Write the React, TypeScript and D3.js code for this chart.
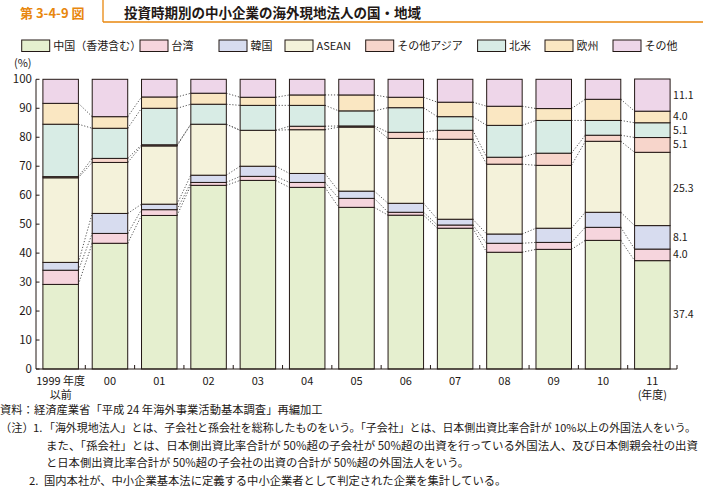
import React from "react";
import * as d3 from "d3";

const categories = ["1999 年度\n以前", "00", "01", "02", "03", "04", "05", "06", "07", "08", "09", "10", "11\n(年度)"];
const seriesNames = ["中国（香港含む）", "台湾", "韓国", "ASEAN", "その他アジア", "北米", "欧州", "その他"];
const china = [29.2, 43.4, 53.0, 63.4, 65.1, 62.7, 55.8, 53.1, 48.6, 40.3, 41.3, 44.4, 37.4];
const taiwan = [4.9, 3.4, 2.0, 1.0, 1.4, 1.7, 3.1, 1.0, 1.1, 3.1, 2.4, 4.5, 4.0];
const korea = [2.7, 6.9, 1.9, 2.5, 3.5, 3.1, 2.5, 3.1, 2.0, 3.2, 4.9, 5.2, 8.1];
const asean = [29.2, 17.6, 20.1, 17.6, 12.4, 15.1, 22.1, 22.4, 27.6, 24.1, 21.7, 24.5, 25.3];
const otherAsia = [0.4, 1.4, 0.4, 0.0, 0.0, 1.2, 0.4, 2.1, 3.1, 2.4, 4.2, 2.1, 5.1];
const northAmerica = [18.1, 10.4, 12.6, 6.9, 8.6, 7.2, 5.2, 8.5, 4.7, 11.0, 11.3, 5.1, 5.1];
const europe = [7.2, 4.0, 3.9, 3.8, 2.8, 3.6, 5.5, 3.6, 5.0, 6.6, 4.1, 7.3, 4.0];
const others = [8.3, 12.9, 6.1, 4.8, 6.2, 5.4, 5.4, 6.2, 7.9, 9.3, 10.1, 6.9, 11.1];
const yTicks = [0, 10, 20, 30, 40, 50, 60, 70, 80, 90, 100];
const lastLabels = ["37.4", "4.0", "8.1", "25.3", "5.1", "5.1", "4.0", "11.1"];

const colors = ["#e5efcf", "#f6d5dd", "#d7dcef", "#f4f2da", "#f7d5cb", "#d8ece5", "#fae7c2", "#eed6e9"];
const allSeries = [china, taiwan, korea, asean, otherAsia, northAmerica, europe, others];

const FONT = "'Noto Sans CJK JP', 'Noto Sans', sans-serif";
const INK = "#231815";
const ORANGE = "#e8870e";

export default function App() {
  const x = d3.scaleBand<number>().domain(d3.range(categories.length)).range([36, 677]).paddingInner(0.28).paddingOuter(0.14);
  const y = d3.scaleLinear().domain([0, 100]).range([369, 79.3]);

  const table = categories.map((c, i) => {
    const row: any = { i };
    seriesNames.forEach((s, k) => (row[s] = allSeries[k][i]));
    return row;
  });
  const stacked = d3.stack<any>().keys(seriesNames)(table);

  const bw = x.bandwidth();
  const step = x.step();

  const connectors: JSX.Element[] = [];
  for (let i = 0; i < categories.length - 1; i++) {
    for (let k = 0; k < seriesNames.length - 1; k++) {
      const a = stacked[k][i][1];
      const b = stacked[k][i + 1][1];
      connectors.push(
        <line key={`c${i}-${k}`} x1={x(i)! + bw} x2={x(i + 1)!} y1={y(a)} y2={y(b)}
          stroke="#555" strokeWidth={1} strokeDasharray="1.2,1.8" />
      );
    }
  }

  const legendX = [21.7, 140, 219, 285, 365.7, 477.6, 545, 613];

  const notes: { y: number; x: number; t: string; len?: number; fs?: number }[] = [
    { y: 414, x: 0, t: "資料：経済産業省「平成 24 年海外事業活動基本調査」再編加工" },
    { y: 432, x: 0, t: "（注）" },
    { y: 432, x: 33, t: "1." },
    { y: 432, x: 44, t: "「海外現地法人」とは、子会社と孫会社を総称したものをいう。「子会社」とは、日本側出資比率合計が 10%以上の外国法人をいう。", len: 652, fs: 11 },
    { y: 449.5, x: 46, t: "また、「孫会社」とは、日本側出資比率合計が 50%超の子会社が 50%超の出資を行っている外国法人、及び日本側親会社の出資", len: 652 },
    { y: 467, x: 46, t: "と日本側出資比率合計が 50%超の子会社の出資の合計が 50%超の外国法人をいう。" },
    { y: 484.5, x: 29, t: "2." },
    { y: 484.5, x: 44, t: "国内本社が、中小企業基本法に定義する中小企業者として判定された企業を集計している。" },
  ];

  const last = categories.length - 1;
  // label positions for last bar, spread upward-to-downward to keep minimum spacing
  const labelY = stacked.map((layer) => (y(layer[last][0]) + y(layer[last][1])) / 2);
  const order = d3.range(labelY.length).sort((a, b) => labelY[a] - labelY[b]);
  const minGap = 14;
  for (let j = 1; j < order.length; j++) {
    const prev = labelY[order[j - 1]];
    if (labelY[order[j]] - prev < minGap) labelY[order[j]] = prev + minGap;
  }

  return (
    <svg width={703} height={487} style={{ position: "absolute", left: 0, top: 0, background: "#fff" }} fontFamily={FONT}>
      {/* header */}
      <line x1={103} x2={103} y1={0} y2={22} stroke={ORANGE} strokeWidth={1.3} />
      <line x1={103} x2={703} y1={22} y2={22} stroke={ORANGE} strokeWidth={1.3} />
      <text x={20} y={18} fontSize={13} fontWeight="bold" fill={ORANGE}>第 3-4-9 図</text>
      <text x={124} y={18} fontSize={13.5} fontWeight="bold" fill={INK}>投資時期別の中小企業の海外現地法人の国・地域</text>

      {/* legend */}
      {seriesNames.map((s, k) => (
        <g key={s}>
          <rect x={legendX[k]} y={40} width={28} height={11.5} fill={colors[k]} stroke={INK} strokeWidth={1} />
          <text x={legendX[k] + 31.5} y={50} fontSize={11} fill={INK}>{s}</text>
        </g>
      ))}

      {/* y axis */}
      <text x={14} y={67} fontSize={11} fill={INK}>(%)</text>
      <line x1={36} x2={36} y1={y(100)} y2={y(0)} stroke={INK} strokeWidth={1} />
      {yTicks.map((t) => (
        <g key={t}>
          <line x1={36} x2={39.5} y1={y(t)} y2={y(t)} stroke={INK} strokeWidth={1} />
          <text x={32} y={y(t) + 4} fontSize={11.5} textAnchor="end" fill={INK}>{t}</text>
        </g>
      ))}

      {/* connectors */}
      {connectors}

      {/* bars */}
      {stacked.map((layer, k) => (
        <g key={k}>
          {layer.map((d, i) => (
            <rect key={i} x={x(i)!} y={y(d[1])} width={bw} height={y(d[0]) - y(d[1])}
              fill={colors[k]} stroke={INK} strokeWidth={1} />
          ))}
        </g>
      ))}

      {/* x axis */}
      <line x1={36} x2={677} y1={y(0)} y2={y(0)} stroke={INK} strokeWidth={1} />
      {d3.range(categories.length).map((i) => (
        <line key={i} x1={x(i)! + bw + (step - bw) / 2} x2={x(i)! + bw + (step - bw) / 2} y1={y(0)} y2={y(0) - 4} stroke={INK} strokeWidth={1} />
      ))}
      {categories.map((c, i) => (
        <text key={c} x={x(i)! + bw / 2} y={384.5} fontSize={11} textAnchor="middle" fill={INK}>
          {c.split("\n").map((line, j) => (
            <tspan key={j} x={x(i)! + bw / 2} dy={j === 0 ? 0 : 14.5}>{line}</tspan>
          ))}
        </text>
      ))}

      {/* last bar labels */}
      {stacked.map((layer, k) => (
        <text key={k} x={x(last)! + bw + 3} y={labelY[k] + 3.5} fontSize={10.5} fill={INK}>
          {lastLabels[k]}
        </text>
      ))}

      {/* notes */}
      {notes.map((n, j) => (
        <text key={j} x={n.x} y={n.y} fontSize={n.fs ?? 11.3} fill={INK}
          textLength={n.len} lengthAdjust={n.len ? "spacingAndGlyphs" : undefined}>{n.t}</text>
      ))}
    </svg>
  );
}
